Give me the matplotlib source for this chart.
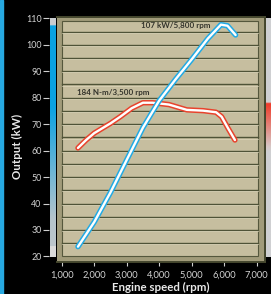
import numpy as np
import matplotlib
matplotlib.use("Agg")
import matplotlib.pyplot as plt
from matplotlib.patches import Rectangle
from matplotlib.colors import to_rgb

# power curve (kW)
power_rpm = [1500, 2000, 2500, 3000, 3500, 4000, 4500, 5000, 5500, 5900, 6100, 6350]
power_kw = [23.7, 33.0, 44.2, 56.5, 68.7, 78.9, 86.9, 94.5, 102.4, 107.6, 107.2, 103.7]

# torque curve, drawn on the kW scale
torque_rpm = [1500, 1750, 2000, 2500, 2800, 3150, 3500, 3800, 4300, 4850, 5350, 5750, 5920, 6120, 6330]
torque_val = [61.0, 64.0, 66.6, 70.3, 72.8, 76.0, 78.1, 78.1, 77.4, 75.4, 75.1, 74.5, 72.8, 68.4, 64.0]

x_ticks = [1000, 2000, 3000, 4000, 5000, 6000, 7000]
x_ticklabels = ["1,000", "2,000", "3,000", "4,000", "5,000", "6,000", "7,000"]
y_ticks = [20, 30, 40, 50, 60, 70, 80, 90, 100, 110]
grid_levels = [25, 30, 35, 40, 45, 50, 55, 60, 65, 70, 75, 80, 85, 90, 95, 100, 105]

power_note = "107 kW/5,800 rpm"
torque_note = "184 N-m/3,500 rpm"

plt.rcParams["font.family"] = ["Lato", "DejaVu Sans"]

W, H = 271, 294
fig = plt.figure(figsize=(W / 100, H / 100), dpi=100, facecolor="black")

# left blue edge stripe
fig.patches.append(Rectangle((0, 0), 3 / W, 1, transform=fig.transFigure,
                             color="#27a9e1", zorder=0))

# main panel
ax = fig.add_axes([57 / W, 32 / H, 208 / W, 245 / H])
ax.set_facecolor("#a19b7a")
ax.set_xlim(855, 7255)
ax.set_ylim(17.9, 110.5)

inner = Rectangle((0.024, 0.0245), 0.94, 0.961, transform=ax.transAxes,
                  facecolor="#c6be9f", edgecolor="#55573c", lw=0.8, zorder=0)
ax.add_patch(inner)
for lv in grid_levels:
    ax.axhline(lv, xmin=0.024, xmax=0.964, color="#4f5337", lw=1.0, zorder=1)
    ax.axhline(lv - 0.45, xmin=0.024, xmax=0.964, color="#ddd6bb", lw=0.5, zorder=1)

for s in ["top", "right", "bottom"]:
    ax.spines[s].set_color("#45472e")
    ax.spines[s].set_linewidth(1.4)
ax.spines["left"].set_visible(False)
ax.spines["left"].set_position(("outward", 5.8))

ax.set_yticks(y_ticks)
ax.set_yticklabels([str(v) for v in y_ticks])
ax.set_xticks(x_ticks)
ax.set_xticklabels(x_ticklabels)
ax.tick_params(axis="y", direction="out", length=4.3, width=0.8, color="#cfcfcf",
               labelcolor="#d4d4d4", labelsize=6.4, pad=1)
ax.tick_params(axis="x", direction="out", length=2.9, width=0.8, color="#cfcfcf",
               labelcolor="#d4d4d4", labelsize=6.7, pad=3.4)

blue = "#22aae4"
red = "#e8432d"
ax.plot(torque_rpm, torque_val, color=red, lw=3.9, solid_capstyle="round",
        solid_joinstyle="round", zorder=3)
ax.plot(torque_rpm, torque_val, color="white", lw=1.7, solid_capstyle="round",
        solid_joinstyle="round", zorder=3)
ax.plot(power_rpm, power_kw, color=blue, lw=3.9, solid_capstyle="round",
        solid_joinstyle="round", zorder=4)
ax.plot(power_rpm, power_kw, color="white", lw=1.7, solid_capstyle="round",
        solid_joinstyle="round", zorder=4)

ax.text(3431, 107.2, power_note, fontsize=5.8, fontweight="bold", color="#34342c",
        va="center", ha="left", zorder=5)
ax.text(1480, 82.0, torque_note, fontsize=5.8, fontweight="bold", color="#34342c",
        va="center", ha="left", zorder=5)

fig.text(161 / W, 1 - 287 / H, "Engine speed (rpm)", fontsize=8.3, fontweight="bold",
         color="#e8e8e8", ha="center", va="center")
fig.text(17 / W, 1 - 146 / H, "Output (kW)", fontsize=8.3, fontweight="bold",
         color="#e8e8e8", ha="center", va="center", rotation=90)


def gradient_column(stops, n=240):
    # stops: list of (fraction from top, colour)
    pos = np.linspace(0, 1, n)
    fr = [p for p, _ in stops]
    cols = np.array([to_rgb(c) for _, c in stops])
    img = np.stack([np.interp(pos, fr, cols[:, i]) for i in range(3)], axis=1)
    return img[:, None, :]


# blue output bar left of the panel
bar = fig.add_axes([50 / W, 37 / H, 6 / W, 239 / H])
bar.imshow(gradient_column([(0.0, "#c9cdd0"), (0.028, "#c9cdd0"), (0.03, "#0aa2e2"),
                            (0.37, "#0aa2e2"), (0.84, "#b5c4cc"), (0.955, "#bcc6cb"),
                            (0.957, "#dadada"), (1.0, "#dadada")]),
           aspect="auto", interpolation="bilinear")
bar.axis("off")

# strip of neighbouring panel on right edge
strip = fig.add_axes([266 / W, 37 / H, 5 / W, 239 / H])
strip.imshow(gradient_column([(0.0, "#cfd0d2"), (0.354, "#cfd0d2"), (0.356, "#f03a28"),
                              (0.54, "#d6c9c8"), (0.56, "#cfd0d2"), (1.0, "#cfd0d2")]),
             aspect="auto", interpolation="bilinear")
strip.axis("off")

fig.savefig("out.png", dpi=100, facecolor="black")
